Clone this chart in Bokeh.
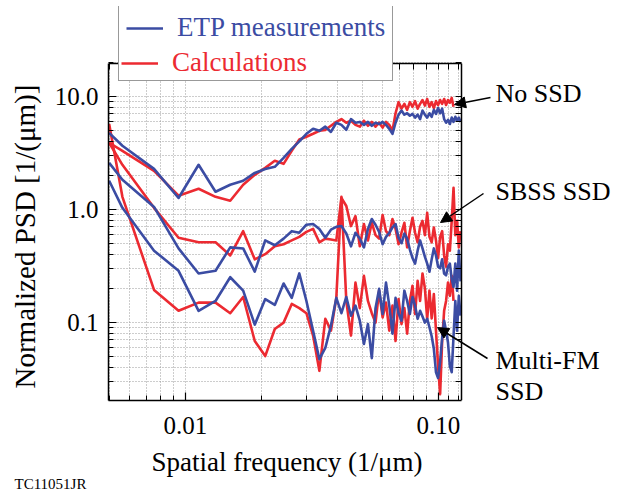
import math
from bokeh.plotting import figure
from bokeh.models import (Legend, LegendItem, LogAxis, FixedTicker, PrintfTickFormatter,
                          Label, Arrow, NormalHead, Range1d, Title)
from bokeh.embed import file_html
from bokeh.resources import INLINE

# Spatial frequency (1/um)
freq = [0.005, 0.00564, 0.00752, 0.0094, 0.01128, 0.01316, 0.01504, 0.01692, 0.0188,
        0.02068, 0.02256, 0.02444, 0.02632, 0.0282, 0.03008, 0.03196, 0.03384, 0.03572,
        0.0376, 0.03948, 0.04136, 0.04324, 0.04512, 0.047, 0.04888, 0.05076, 0.05264,
        0.05452, 0.0564, 0.05828, 0.06016, 0.06204, 0.06392, 0.0658, 0.06768, 0.06956,
        0.07144, 0.07332, 0.0752, 0.07708, 0.07896, 0.08084, 0.08272, 0.0846, 0.08648,
        0.08836, 0.09024, 0.09212, 0.094, 0.09588, 0.09776, 0.09964, 0.10152, 0.1034,
        0.10528, 0.10716, 0.10904, 0.11092, 0.1128, 0.11468, 0.11656, 0.11844, 0.12032,
        0.1222]

# No SSD
etp_no_ssd = [4.76, 3.66, 2.28, 1.26, 2.48, 1.43, 1.65, 1.79, 2.1, 2.28, 2.38, 2.86, 3.43,
              4.0, 4.67, 5.17, 4.96, 5.4, 4.85, 5.85, 5.6, 5.06, 6.3, 5.85, 5.95, 5.6, 5.95,
              5.5, 5.85, 5.7, 5.95, 5.6, 5.17, 4.67, 5.85, 6.9, 7.5, 6.9, 7.1, 6.75, 7.0,
              6.5, 6.9, 6.3, 7.5, 6.9, 6.5, 7.1, 6.6, 7.6, 7.0, 7.9, 7.1, 7.8, 6.3, 5.85,
              6.2, 5.7, 6.5, 5.95, 6.6, 6.1, 6.5, 5.95]
calc_no_ssd = [3.89, 3.3, 2.19, 1.32, 1.52, 1.29, 1.19, 1.65, 2.02, 2.33, 2.69, 2.53, 3.3,
               4.15, 4.4, 4.67, 4.96, 5.06, 5.5, 5.95, 6.3, 5.85, 6.1, 5.6, 5.4, 6.1, 5.5,
               5.95, 5.4, 5.85, 5.3, 5.95, 5.6, 4.96, 7.1, 8.9, 7.8, 8.6, 7.6, 8.9, 8.1,
               9.1, 7.8, 8.6, 9.3, 8.3, 9.5, 8.1, 8.9, 7.9, 9.1, 8.4, 9.3, 8.6, 9.5, 8.4,
               9.3, 8.8, 9.7, 8.1]

# SBSS SSD
etp_sbss = [2.58, 1.83, 1.05, 0.45, 0.27, 0.285, 0.46, 0.45, 0.28, 0.53, 0.48, 0.55, 0.64,
            0.62, 0.73, 0.74, 0.67, 0.56, 0.66, 0.70, 0.71, 0.61, 0.47, 0.62, 0.55, 0.46,
            0.67, 0.82, 0.73, 0.63, 0.49, 0.57, 0.62, 0.69, 0.74, 0.56, 0.50, 0.61, 0.55,
            0.44, 0.37, 0.33, 0.43, 0.53, 0.45, 0.38, 0.33, 0.28, 0.36, 0.45, 0.39, 0.31,
            0.30, 0.36, 0.27, 0.26, 0.31, 0.33, 0.24, 0.205, 0.33, 0.19, 0.43, 0.23]
calc_sbss = [3.89, 2.48, 1.03, 0.56, 0.51, 0.51, 0.39, 0.64, 0.36, 0.40, 0.47, 0.49, 0.53,
             0.57, 0.63, 0.67, 0.51, 0.55, 0.54, 0.53, 1.26, 1.07, 0.71, 0.87, 0.47, 0.74,
             0.53, 0.76, 0.59, 0.55, 0.89, 0.64, 0.59, 0.82, 0.67, 0.49, 0.62, 0.76, 0.46,
             0.64, 0.84, 0.62, 0.51, 0.70, 0.79, 0.59, 0.93, 0.57, 0.51, 0.69, 0.53, 0.37,
             0.57, 0.64, 0.39, 0.31, 0.49, 0.43, 0.79, 1.55, 0.59, 0.79, 0.46, 0.64]

# Multi-FM SSD
etp_mfm = [1.79, 1.03, 0.43, 0.285, 0.126, 0.154, 0.25, 0.19, 0.095, 0.16, 0.142, 0.22,
           0.164, 0.27, 0.154, 0.084, 0.047, 0.059, 0.093, 0.164, 0.12, 0.167, 0.114, 0.14,
           0.103, 0.064, 0.096, 0.048, 0.133, 0.197, 0.118, 0.224, 0.14, 0.079, 0.164, 0.12,
           0.103, 0.19, 0.154, 0.118, 0.167, 0.14, 0.107, 0.126, 0.112, 0.099, 0.107, 0.09,
           0.075, 0.058, 0.036, 0.032, 0.045, 0.072, 0.103, 0.084, 0.066, 0.041, 0.036,
           0.075, 0.154, 0.084, 0.171, 0.114]
calc_mfm = [5.7, 1.29, 0.193, 0.126, 0.149, 0.149, 0.12, 0.167, 0.068, 0.05, 0.087, 0.099,
            0.145, 0.133, 0.12, 0.076, 0.037, 0.107, 0.084, 0.164, 1.29, 0.154, 0.076, 0.224,
            0.133, 0.257, 0.154, 0.12, 0.099, 0.19, 0.11, 0.149, 0.084, 0.14, 0.068, 0.16,
            0.096, 0.133, 0.079, 0.154, 0.21, 0.118, 0.232, 0.154, 0.27, 0.2, 0.107, 0.19,
            0.108, 0.177, 0.084, 0.041, 0.023, 0.068, 0.126, 0.154, 0.224, 0.171, 0.257,
            0.154]

x_major = [0.01, 0.1]
x_minor = [0.005, 0.006, 0.007, 0.008, 0.009, 0.02, 0.03, 0.04, 0.05, 0.06, 0.07, 0.08,
           0.09, 0.11, 0.12]
y_major = [0.1, 1.0, 10.0]
y_minor = [0.02, 0.03, 0.04, 0.05, 0.06, 0.07, 0.08, 0.09, 0.2, 0.3, 0.4, 0.5, 0.6, 0.7,
           0.8, 0.9, 2, 3, 4, 5, 6, 7, 8, 9, 20]

# axis (plot box) limits
X0, X1 = 0.00497, 0.1233
Y0, Y1 = 0.0202, 19.6

BLUE = "#3B4CA3"
RED = "#EC2A31"
FONT = "Liberation Serif"

# ---- geometry (pixels) ----
BOX_W, BOX_H = 353, 337              # plot box size
LEFT, TOP = 108, 6                   # frame left / top on the page
BOX_TOP = 63                         # plot box top on the page
FRAME_W = 508                        # frame reaches right of the box (annotations)
FRAME_H = BOX_TOP + BOX_H - TOP      # frame reaches above the box (legend)
px_dec_x = BOX_W / math.log10(X1 / X0)
px_dec_y = BOX_H / math.log10(Y1 / Y0)
frame_bottom = TOP + FRAME_H
xr_end = X0 * 10 ** (FRAME_W / px_dec_x)
yr_end = Y1 * 10 ** ((BOX_TOP - TOP) / px_dec_y)

p = figure(x_axis_type="log", y_axis_type="log",
           x_range=Range1d(X0, xr_end), y_range=Range1d(Y0, yr_end),
           frame_width=FRAME_W, frame_height=FRAME_H,
           min_border_left=LEFT, min_border_right=5, min_border_top=TOP,
           min_border_bottom=95,
           output_backend="svg", toolbar_location=None,
           background_fill_color="white", border_fill_color="white")
p.outline_line_color = None

xt = FixedTicker(ticks=x_major, minor_ticks=x_minor)
yt = FixedTicker(ticks=y_major, minor_ticks=y_minor)
xt_mirror = FixedTicker(ticks=[], minor_ticks=sorted(x_major + x_minor))
yt_mirror = FixedTicker(ticks=[], minor_ticks=sorted(y_major + y_minor))


def style_axis(ax):
    ax.major_tick_in = 8
    ax.major_tick_out = 0
    ax.minor_tick_in = 5
    ax.minor_tick_out = 0
    ax.axis_line_color = "black"
    ax.axis_line_width = 1.5
    ax.major_tick_line_color = "black"
    ax.minor_tick_line_color = "black"
    ax.major_tick_line_width = 1.2
    ax.minor_tick_line_width = 1
    ax.major_label_text_font = FONT
    ax.major_label_text_font_size = "25px"
    ax.major_label_text_color = "black"


xa = p.xaxis[0]
xa.ticker = xt
xa.formatter = PrintfTickFormatter(format="%.2f")
style_axis(xa)
xa.bounds = (X0, X1)
xa.major_label_standoff = 16

ya = p.yaxis[0]
ya.ticker = yt
ya.formatter = PrintfTickFormatter(format="%.1f")
style_axis(ya)
ya.bounds = (Y0, Y1)
ya.major_label_standoff = 10

top_ax = LogAxis(ticker=xt_mirror, bounds=(X0, X1), fixed_location=Y1)
style_axis(top_ax)
top_ax.minor_tick_in = 6
p.add_layout(top_ax, "above")
right_ax = LogAxis(ticker=yt_mirror, bounds=(Y0, Y1), fixed_location=X1)
style_axis(right_ax)
right_ax.minor_tick_in = 6
p.add_layout(right_ax, "right")

# axis titles, centred on the plot box (not on the enlarged frame)
p.add_layout(Title(text="Spatial frequency (1/μm)", align="left", offset=151 - LEFT,
                   text_font=FONT, text_font_size="27px", text_font_style="normal",
                   text_color="black", standoff=16, vertical_align="bottom"), "below")
p.add_layout(Title(text="TC11051JR", align="left", offset=14 - LEFT, text_font=FONT,
                   text_font_size="15px", text_font_style="normal", text_color="black",
                   standoff=-18, vertical_align="top"), "below")
p.add_layout(Title(text="Normalized PSD [1/(μm)]", align="left",
                   offset=frame_bottom - 388, text_font=FONT, text_font_size="29px",
                   text_font_style="normal", text_color="black", standoff=17,
                   vertical_align="top"), "left")

for g in (p.xgrid[0], p.ygrid[0]):
    g.grid_line_color = "#9a9a9a"
    g.grid_line_dash = "1 2"
    g.grid_line_width = 1
    g.minor_grid_line_color = "#9a9a9a"
    g.minor_grid_line_dash = "1 2"
    g.minor_grid_line_width = 1
p.xgrid[0].ticker = xt
p.ygrid[0].ticker = yt
p.xgrid[0].bounds = (X0, X1)
p.xgrid[0].cross_bounds = (Y0, Y1)
p.ygrid[0].bounds = (Y0, Y1)
p.ygrid[0].cross_bounds = (X0, X1)

LW = 2.6
r_calc = []
for vals in (calc_no_ssd, calc_sbss, calc_mfm):
    r_calc.append(p.line(freq[:len(vals)], vals, line_color=RED, line_width=LW,
                         line_join="round"))
r_etp = []
for vals in (etp_no_ssd, etp_sbss, etp_mfm):
    r_etp.append(p.line(freq[:len(vals)], vals, line_color=BLUE, line_width=LW,
                        line_join="round"))

# legend: one bordered box (blue label row + placeholder row), red row drawn on top
leg_left, leg_bottom, pad, pad2 = 118, 81, 7, 4
vx = leg_left - LEFT
vy = frame_bottom - leg_bottom
common = dict(label_text_font=FONT, label_text_font_size="27px", glyph_width=37,
              glyph_height=30, label_height=30, label_standoff=14, spacing=0, margin=0,
              background_fill_color="white", background_fill_alpha=1.0)
leg1 = Legend(items=[LegendItem(label="ETP measurements", renderers=[r_etp[0]]),
                     LegendItem(label=" ", renderers=[r_calc[0]])],
              location=(vx, vy), padding=pad, label_text_color=BLUE,
              border_line_color="#333333", border_line_width=1.5, **common)
leg2 = Legend(items=[LegendItem(label="Calculations", renderers=[r_calc[0]])],
              location=(vx + pad - pad2, vy + pad - pad2), padding=pad2,
              label_text_color=RED, border_line_color=None, **common)
p.add_layout(leg1)
p.add_layout(leg2)


def sx(px):
    return px - LEFT


def sy(py):
    return frame_bottom - py


ann = dict(x_units="screen", y_units="screen", text_font=FONT, text_font_size="26px",
           text_color="black", text_baseline="middle", text_align="left")
p.add_layout(Label(x=sx(495), y=sy(93), text="No SSD", **ann))
p.add_layout(Label(x=sx(495), y=sy(190.5), text="SBSS SSD", **ann))
p.add_layout(Label(x=sx(495), y=sy(360), text="Multi-FM", **ann))
p.add_layout(Label(x=sx(495), y=sy(391), text="SSD", **ann))

for (x0, y0), (x1, y1) in (((490, 97), (454, 104)), ((483, 193), (440, 222)),
                           ((487, 358), (437, 327))):
    p.add_layout(Arrow(x_start=sx(x0), y_start=sy(y0), x_end=sx(x1), y_end=sy(y1),
                       start_units="screen", end_units="screen",
                       line_color="black", line_width=1.5,
                       end=NormalHead(size=11, fill_color="black", line_color="black",
                                      line_width=1)))

open("out.html", "w").write(file_html(p, INLINE))
